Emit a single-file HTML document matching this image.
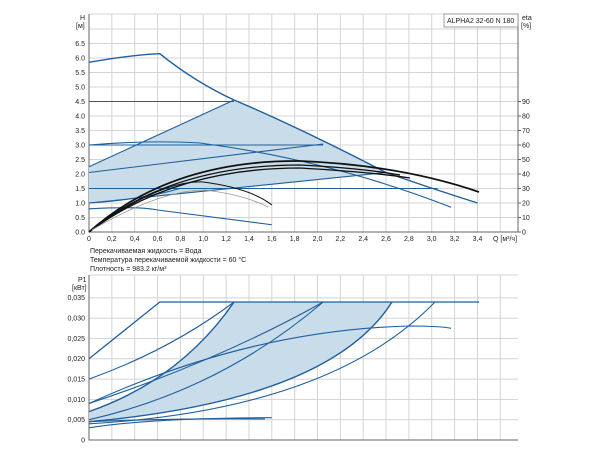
<!DOCTYPE html>
<html><head><meta charset="utf-8"><style>
html,body{margin:0;padding:0;background:#fff;}
svg text{font-family:"Liberation Sans","Noto Sans CJK SC",sans-serif;font-size:7px;fill:#222;}
</style></head><body>
<svg width="600" height="450" viewBox="0 0 600 450" xmlns="http://www.w3.org/2000/svg">
<rect width="600" height="450" fill="#fff"/>
<g stroke="#d4d4d4" stroke-width="1" fill="none">
<path d="M111.85 14V232M134.7 14V232M157.55 14V232M180.4 14V232M203.25 14V232M226.1 14V232M248.95 14V232M271.8 14V232M294.65 14V232M317.5 14V232M340.35 14V232M363.2 14V232M386 14V232M408.9 14V232M431.7 14V232M454.6 14V232M477.5 14V232M500.3 14V232"/>
<path d="M89 217.5H518M89 203H518M89 188.5H518M89 174H518M89 159.5H518M89 145H518M89 130.5H518M89 116H518M89 101.5H518M89 87H518M89 72.5H518M89 58H518M89 43.5H518M89 29H518M89 14H518"/>
<path d="M111.85 275V440M134.7 275V440M157.55 275V440M180.4 275V440M203.25 275V440M226.1 275V440M248.95 275V440M271.8 275V440M294.65 275V440M317.5 275V440M340.35 275V440M363.2 275V440M386 275V440M408.9 275V440M431.7 275V440M454.6 275V440M477.5 275V440M500.3 275V440"/>
<path d="M89 419.7H518M89 399.4H518M89 379.1H518M89 358.8H518M89 338.5H518M89 318.2H518M89 297.9H518M89 275H518"/>
</g>
<g stroke="#666" stroke-width="1" fill="none">
<path d="M89 14V232H518V14"/>
<path d="M89 275V440H518"/>
</g>
<!-- top shaded -->
<path d="M89 203L89 166.75L234.1 100Q300 128 386 172.5L89 203Z" fill="#c8dcea" stroke="none"/>
<g stroke="#1f5f9e" stroke-width="1.1" fill="none">
<path d="M89 62.35Q130 55 159.8 53.65Q195 82 234.1 100Q300 128 386 172.5Q430 188 477.5 203" stroke-width="1.4"/>
<path d="M89 101.5H234.1"/>
<path d="M89 145H323.2"/>
<path d="M89 188.5H437.5"/>
<path d="M89 166.75L234.1 100"/>
<path d="M89 172.5L323.2 144"/>
<path d="M89 203L386 172.5"/>
<path d="M89 145Q150 140 200 143Q330 160 451.2 207.3"/>
<path d="M89 208.8Q140 206 157.55 210Q220 218 271.8 224.75"/>
<path d="M89 203Q140 200 180 188.5"/>
</g>
<g stroke="#111" stroke-width="1.3" fill="none">
<path d="M89 232Q170 160 300 161Q400 165 479 192" stroke-width="1.8"/>
<path d="M89 232Q170 165 300 165Q360 168 400 175"/>
<path d="M89 232Q175 168 300 168Q370 172 410 178"/>
<path d="M89 232Q160 180 203 182Q250 188 272 205" stroke-width="1"/>
</g>
<path d="M92 230Q160 190 205 190Q245 195 268 207" stroke="#999" stroke-width="0.8" fill="none"/>
<!-- bottom shaded -->
<path d="M89 411.6Q180 380 234.1 302H392Q330 400 89 421.7Z" fill="#c8dcea" stroke="none"/>
<g stroke="#1f5f9e" stroke-width="1.1" fill="none">
<path d="M89 358.8L159.8 302H479" stroke-width="1.3"/>
<path d="M89 379.1Q170 350 234.1 302"/>
<path d="M89 411.6Q180 380 234.1 302" stroke-width="1.4"/>
<path d="M89 403.5Q220 360 323.2 302"/>
<path d="M89 419.7Q220 390 323.2 302"/>
<path d="M89 421.7Q330 400 392 302" stroke-width="1.4"/>
<path d="M89 423.8Q330 410 435 302"/>
<path d="M89 403.5Q250 330 410 326Q440 326 451 328.3"/>
<path d="M89 427.8Q150 418 271.8 417.7"/>
<path d="M89 421.7Q180 418 265 419"/>
</g>
<!-- labels -->
<text x="80" y="20">H</text><text x="76" y="28">[м]</text>
<g text-anchor="end">
<text x="85" y="234.5">0.0</text><text x="85" y="220">0.5</text><text x="85" y="205.5">1.0</text><text x="85" y="191">1.5</text><text x="85" y="176.5">2.0</text><text x="85" y="162">2.5</text><text x="85" y="147.5">3.0</text><text x="85" y="133">3.5</text><text x="85" y="118.5">4.0</text><text x="85" y="104">4.5</text><text x="85" y="89.5">5.0</text><text x="85" y="75">5.5</text><text x="85" y="60.5">6.0</text><text x="85" y="46">6.5</text>
</g>
<g>
<text x="522" y="234.5">0</text><text x="522" y="220">10</text><text x="522" y="205.5">20</text><text x="522" y="191">30</text><text x="522" y="176.5">40</text><text x="522" y="162">50</text><text x="522" y="147.5">60</text><text x="522" y="133">70</text><text x="522" y="118.5">80</text><text x="522" y="104">90</text>
<text x="522" y="20" font-size="6">eta</text><text x="521" y="28">[%]</text>
</g>
<g stroke="#666"><path d="M518 232h3M518 217.5h3M518 203h3M518 188.5h3M518 174h3M518 159.5h3M518 145h3M518 130.5h3M518 116h3M518 101.5h3"/></g>
<g text-anchor="middle">
<text x="89" y="241">0</text><text x="111.85" y="241">0,2</text><text x="134.7" y="241">0,4</text><text x="157.55" y="241">0,6</text><text x="180.4" y="241">0,8</text><text x="203.25" y="241">1,0</text><text x="226.1" y="241">1,2</text><text x="248.95" y="241">1,4</text><text x="271.8" y="241">1,6</text><text x="294.65" y="241">1,8</text><text x="317.5" y="241">2,0</text><text x="340.35" y="241">2,2</text><text x="363.2" y="241">2,4</text><text x="386" y="241">2,6</text><text x="408.9" y="241">2,8</text><text x="431.7" y="241">3,0</text><text x="454.6" y="241">3,2</text><text x="477.5" y="241">3,4</text>
</g>
<text x="493" y="241">Q [м³/ч]</text>
<rect x="444" y="14" width="74" height="13" fill="#fff" stroke="#888" stroke-width="0.8"/>
<text x="447" y="23">ALPHA2 32-60 N 180</text>
<text x="90" y="253">Перекачиваемая жидкость = Вода</text>
<text x="90" y="262">Температура перекачиваемой жидкости = 60 °C</text>
<text x="90" y="271">Плотность = 983.2 кг/м³</text>
<text x="78" y="282">P1</text><text x="72" y="290">[кВт]</text>
<g text-anchor="end">
<text x="85" y="442.5">0</text><text x="85" y="422">0,005</text><text x="85" y="402">0,010</text><text x="85" y="381.5">0,015</text><text x="85" y="361">0,020</text><text x="85" y="341">0,025</text><text x="85" y="320.5">0,030</text><text x="85" y="300">0,035</text>
</g>
</svg>
</body></html>
